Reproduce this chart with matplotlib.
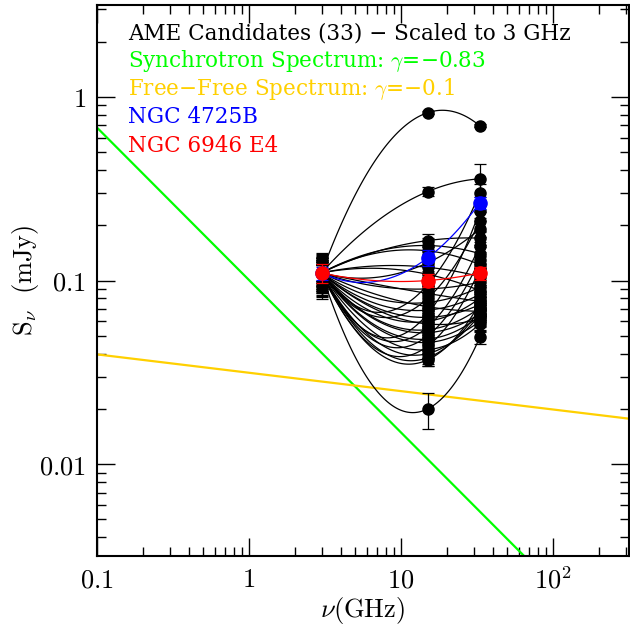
import numpy as np
import matplotlib
matplotlib.use("Agg")
import matplotlib.pyplot as plt
from matplotlib.ticker import FixedLocator, FixedFormatter, LogLocator, NullFormatter

plt.rcParams['font.family'] = ['DejaVu Serif']
plt.rcParams['mathtext.fontset'] = 'cm'

# observing frequencies (GHz)
freqs = [3.0, 15.0, 33.0]

# flux densities scaled to 3 GHz (mJy); sources 2 and 3 are blue / red
s3 = [0.11] * 33
s15 = [0.82, 0.305, 0.133, 0.100,
       0.165, 0.155, 0.145, 0.125, 0.118, 0.108, 0.095, 0.090, 0.085, 0.080,
       0.076, 0.072, 0.069, 0.066, 0.063, 0.060, 0.058, 0.056, 0.054, 0.052,
       0.050, 0.048, 0.046, 0.044, 0.042, 0.040, 0.038, 0.037, 0.020]
s33 = [0.695, 0.358, 0.265, 0.110,
       0.170, 0.140, 0.122, 0.190, 0.105, 0.088, 0.300, 0.098, 0.077, 0.210,
       0.092, 0.068, 0.084, 0.240, 0.074, 0.080, 0.062, 0.155, 0.071, 0.066,
       0.130, 0.064, 0.060, 0.115, 0.058, 0.065, 0.070, 0.075, 0.049]
# fractional errors
e3 = [0.28, 0.20, 0.08, 0.12, 0.15, 0.22, 0.10, 0.18, 0.25, 0.12,
      0.16, 0.20, 0.14, 0.10, 0.18, 0.22, 0.12, 0.15, 0.26, 0.10,
      0.14, 0.18, 0.20, 0.12, 0.16, 0.24, 0.10, 0.15, 0.19, 0.13,
      0.17, 0.21, 0.11]
e15 = [0.02, 0.06, 0.10, 0.08, 0.08, 0.10, 0.08, 0.10, 0.12, 0.10,
       0.10, 0.08, 0.10, 0.12, 0.10, 0.08, 0.10, 0.12, 0.10, 0.08,
       0.10, 0.12, 0.10, 0.08, 0.10, 0.12, 0.10, 0.08, 0.10, 0.12,
       0.10, 0.08, 0.22]
e33 = [0.02, 0.20, 0.08, 0.08, 0.10, 0.12, 0.10, 0.15, 0.10, 0.08,
       0.12, 0.10, 0.10, 0.12, 0.10, 0.08, 0.10, 0.12, 0.10, 0.08,
       0.10, 0.12, 0.10, 0.08, 0.10, 0.12, 0.10, 0.08, 0.10, 0.08,
       0.10, 0.08, 0.08]

sync_s01 = 0.68     # synchrotron flux at 0.1 GHz
sync_idx = -0.83
ff_s01 = 0.0396     # free-free flux at 0.1 GHz
ff_idx = -0.1

xticks = [0.1, 1, 10, 100]
xticklabels = ['$0.1$', '$1$', '$10$', '$10^2$']
yticks = [0.01, 0.1, 1]
yticklabels = ['$0.01$', '$0.1$', '$1$']

legend_lines = [("AME Candidates (33) \u2212 Scaled to 3 GHz", 'black'),
                ("Synchrotron Spectrum: $\\gamma$=\u22120.83", '#00ff00'),
                ("Free\u2212Free Spectrum: $\\gamma$=\u22120.1", '#ffd000'),
                ("NGC 4725B", '#0000ff'),
                ("NGC 6946 E4", '#ff0000')]

fig = plt.figure(figsize=(6.3, 6.26), dpi=100)
ax = fig.add_axes([97/630, 1-556/626, 532/630, 551/626])
ax.set_xscale('log')
ax.set_yscale('log')
ax.set_xlim(0.1, 10**2.5)
ax.set_ylim(10**-2.5, 10**0.5)

# power laws
nu = np.logspace(-1, 2.5, 200)
ax.plot(nu, sync_s01 * (nu / 0.1)**sync_idx, color='#00ff00', lw=1.6, zorder=2)
ax.plot(nu, ff_s01 * (nu / 0.1)**ff_idx, color='#ffd000', lw=1.6, zorder=2)

lx = np.log10(freqs)
grid = np.linspace(lx[0], lx[-1], 100)
order = list(range(4, 33)) + [0, 1, 2, 3]
for i in order:
    col = 'black'
    ms = 8
    if i == 2:
        col = '#0000ff'; ms = 9.5
    elif i == 3:
        col = '#ff0000'; ms = 9.5
    ys = np.array([s3[i], s15[i], s33[i]])
    errs = np.array([e3[i], e15[i], e33[i]]) * ys
    # smooth quadratic in log-log through the three points
    p = np.polyfit(lx, np.log10(ys), 2)
    z = 5 if col != 'black' else 3
    ax.plot(10**grid, 10**np.polyval(p, grid), color=col, lw=0.9, zorder=z)
    ax.errorbar(freqs, ys, yerr=errs, fmt='o', color=col, ms=ms, capsize=4.5,
                elinewidth=0.9, capthick=0.9, zorder=z + 0.5)

ax.tick_params(which='both', direction='in', top=True, right=True, width=1)
ax.tick_params(which='major', length=13, labelsize=19, pad=8)
ax.tick_params(which='minor', length=6.5)
ax.xaxis.set_major_locator(FixedLocator(xticks))
ax.xaxis.set_major_formatter(FixedFormatter(xticklabels))
ax.yaxis.set_major_locator(FixedLocator(yticks))
ax.yaxis.set_major_formatter(FixedFormatter(yticklabels))
ax.xaxis.set_minor_locator(LogLocator(subs=np.arange(2, 10), numticks=20))
ax.yaxis.set_minor_locator(LogLocator(subs=np.arange(2, 10), numticks=20))
ax.xaxis.set_minor_formatter(NullFormatter())
ax.yaxis.set_minor_formatter(NullFormatter())
for s in ax.spines.values():
    s.set_linewidth(1.5)

ax.set_xlabel('$\\nu(\\mathrm{GHz})$', fontsize=19, va='center')
ax.set_ylabel('$\\mathrm{S}_\\nu\\ \\ (\\mathrm{mJy})$', fontsize=19, va='center')
ax.xaxis.set_label_coords(0.5, -0.099)
ax.yaxis.set_label_coords(-0.135, 0.5)

for k, (txt, c) in enumerate(legend_lines):
    ax.text(0.058, 0.949 - k * 0.051, txt, color=c, fontsize=15.5,
            transform=ax.transAxes, va='center', ha='left')

fig.savefig('out.png', dpi=100)
